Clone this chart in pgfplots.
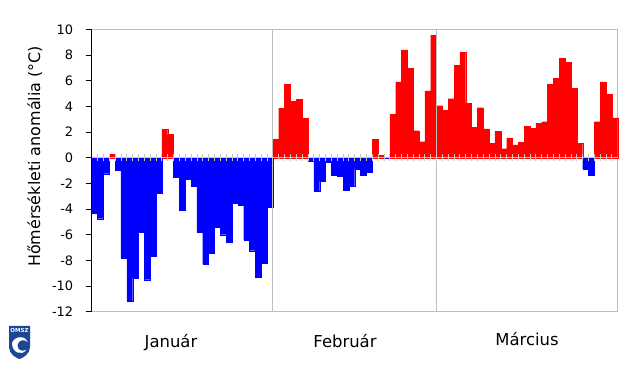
\documentclass[border=0pt]{standalone}
\usepackage{fontspec}
\setmainfont{DejaVu Sans}
\usepackage{pgfplots}
\pgfplotsset{compat=1.18}
\usepackage{pgfplotstable}
\definecolor{framegray}{RGB}{190,190,190}
\definecolor{tickgray}{RGB}{200,200,188}
\definecolor{omszblue}{RGB}{30,70,150}

\pgfplotstableread{
day val
1 -4.3
2 -4.75
3 -1.25
4 0.25
5 -0.95
6 -7.8
7 -11.2
8 -9.4
9 -5.8
10 -9.5
11 -7.65
12 -2.75
13 2.2
14 1.8
15 -1.5
16 -4.1
17 -1.7
18 -2.25
19 -5.8
20 -8.3
21 -7.45
22 -5.4
23 -6.0
24 -6.6
25 -3.55
26 -3.7
27 -6.4
28 -7.25
29 -9.3
30 -8.2
31 -3.85
32 1.45
33 3.85
34 5.7
35 4.4
36 4.55
37 3.05
38 -0.25
39 -2.6
40 -1.85
41 -0.35
42 -1.35
43 -1.45
44 -2.5
45 -2.25
46 -0.9
47 -1.35
48 -1.1
49 1.45
50 0.2
51 0
52 3.4
53 5.9
54 8.4
55 6.95
56 2.1
57 1.25
58 5.2
59 9.55
60 4.05
61 3.7
62 4.6
63 7.2
64 8.2
65 4.25
66 2.35
67 3.9
68 2.25
69 1.1
70 2.05
71 0.7
72 1.55
73 1.0
74 1.2
75 2.45
76 2.3
77 2.7
78 2.8
79 5.7
80 6.2
81 7.75
82 7.45
83 5.4
84 1.1
85 -0.9
86 -1.35
87 2.8
88 5.9
89 4.95
90 3.1
}\anom

\begin{document}
\begin{tikzpicture}
\begin{axis}[
  at={(91.7bp,55.3bp)}, anchor=south west,
  scale only axis, width=526bp, height=282.4bp,
  xmin=0.5, xmax=90.5, ymin=-12, ymax=10,
  xtick=\empty,
  ytick={-12,-10,...,10},
  ytick pos=left,
  tick align=outside,
  major tick length=6bp,
  ytick style={black, line width=0.8pt},
  axis line style={framegray, line width=0.8pt},
  /pgf/number format/assume math mode=true,
  yticklabel style={font=\fontsize{13}{15}\selectfont, xshift=-9bp},
  ylabel={Hőmérsékleti anomália (°C)},
  ylabel style={at={(rel axis cs:-0.108,0.55)}, anchor=center, font=\fontsize{16}{18}\selectfont},
  clip=false,
  ybar, bar width=1,
]
\addplot[fill=red, draw=red, line width=0.2pt, bar shift=0pt, restrict y to domain=0:100] table[x=day,y=val]{\anom};
\addplot[fill=blue, draw=blue, line width=0.2pt, bar shift=0pt, restrict y to domain=-100:0] table[x=day,y=val]{\anom};
\draw[framegray, line width=0.8pt] (axis cs:31.5,-12) -- (axis cs:31.5,10);
\draw[framegray, line width=0.8pt] (axis cs:59.5,-12) -- (axis cs:59.5,10);
\draw[tickgray, line width=0.6pt] (axis cs:0.5,0) -- (axis cs:90.5,0);
\pgfplotsinvokeforeach{0,...,89}{\draw[tickgray, line width=0.8pt] (axis cs:#1.5,-0.28) -- (axis cs:#1.5,0.28);}
\draw[black, line width=0.8pt] (rel axis cs:0,0) -- (rel axis cs:0,1);
\node[anchor=base, font=\fontsize{16.5}{18}\selectfont] at (axis cs:14.07,-14.8) {Január};
\node[anchor=base, font=\fontsize{16.5}{18}\selectfont] at (axis cs:43.84,-14.8) {Február};
\node[anchor=base, font=\fontsize{16.5}{18}\selectfont] at (axis cs:74.98,-14.65) {Március};
\end{axis}
% OMSZ logo
\fill[omszblue] (9bp,41bp) -- (30bp,41bp) -- (30bp,20bp) .. controls (30bp,13bp) and (23bp,9bp) .. (19.5bp,8bp) .. controls (16bp,9bp) and (9bp,13bp) .. (9bp,20bp) -- cycle;
\node[white, font=\bfseries\fontsize{5.5}{6}\selectfont, inner sep=0pt] at (19.5bp,36.3bp) {OMSZ};
\fill[white] (12bp,24bp) .. controls (15bp,32bp) and (26bp,31bp) .. (28bp,25bp) .. controls (24bp,28bp) and (18bp,27bp) .. (17.5bp,22bp) .. controls (17bp,17bp) and (22bp,15bp) .. (26bp,17bp) .. controls (22bp,11bp) and (12bp,14bp) .. cycle;
\pgfresetboundingbox
\path[use as bounding box] (0,0) rectangle (640bp,367bp);
\end{tikzpicture}
\end{document}
